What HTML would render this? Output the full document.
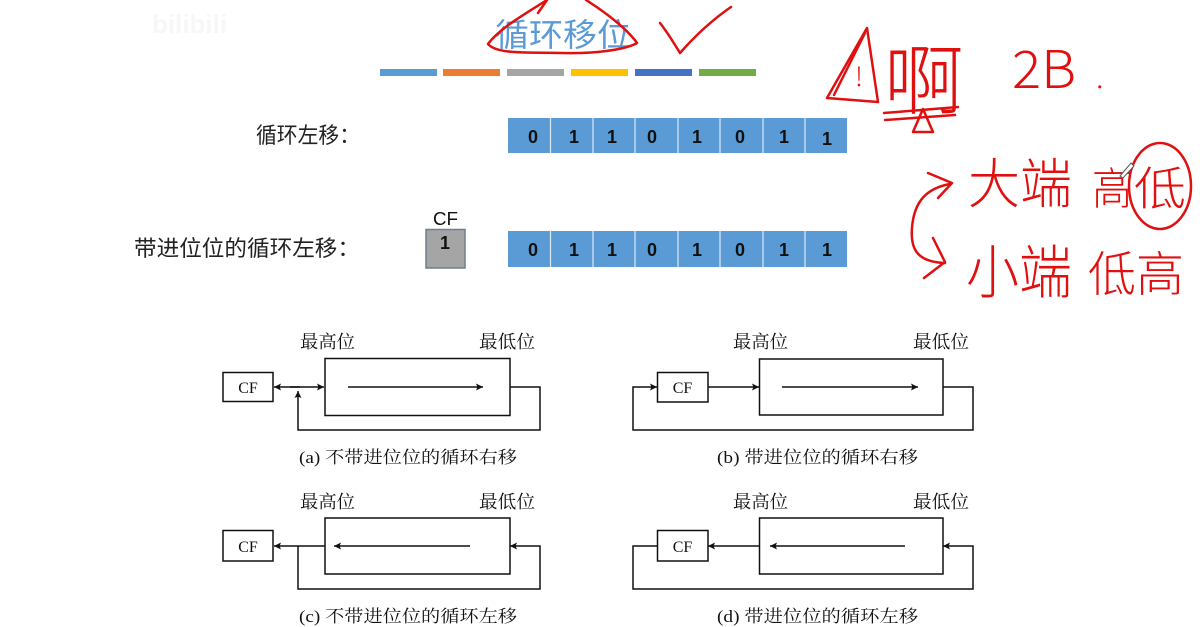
<!DOCTYPE html>
<html>
<head>
<meta charset="utf-8">
<style>
  html,body{margin:0;padding:0;background:#fff;}
  body{width:1200px;height:627px;overflow:hidden;}
  svg{display:block;}
  .sans{font-family:"Liberation Sans","Noto Sans CJK SC",sans-serif;}
  .serif{font-family:"Liberation Serif","Noto Serif CJK SC",serif;}
  .hand{font-family:"Noto Sans CJK SC","WenQuanYi Zen Hei",sans-serif;font-weight:300;fill:#e01010;}
</style>
</head>
<body>
<svg width="1200" height="627" viewBox="0 0 1200 627" xmlns="http://www.w3.org/2000/svg">
  <defs>
    <marker id="ah" viewBox="0 0 10 10" refX="10" refY="5" markerWidth="11" markerHeight="7" markerUnits="userSpaceOnUse" orient="auto">
      <path d="M0,0 L10,5 L0,10 L2,5 Z" fill="#111"/>
    </marker>
  </defs>

  <!-- watermark -->
  <text x="152" y="33" class="sans" font-size="26" font-weight="bold" fill="#f7f7f7">bilibili</text>

  <!-- Title -->
  <text x="495" y="46" class="sans" font-size="32" fill="#5b9bd5" textLength="136" lengthAdjust="spacingAndGlyphs">循环移位</text>

  <!-- colored bars -->
  <rect x="380" y="69" width="57" height="7" fill="#5b9bd5"/>
  <rect x="443" y="69" width="57" height="7" fill="#ed7d31"/>
  <rect x="507" y="69" width="57" height="7" fill="#a5a5a5"/>
  <rect x="571" y="69" width="57" height="7" fill="#ffc000"/>
  <rect x="635" y="69" width="57" height="7" fill="#4472c4"/>
  <rect x="699" y="69" width="57" height="7" fill="#70ad47"/>

  <!-- row 1 -->
  <text x="256" y="143" class="sans" font-size="22" fill="#222" textLength="104" lengthAdjust="spacingAndGlyphs">循环左移：</text>
  <g>
    <rect x="508" y="118" width="339" height="35" fill="#5b9bd5"/>
    <g stroke="#dbe8f5" stroke-width="1.2">
      <line x1="550.5" y1="118" x2="550.5" y2="153"/>
      <line x1="593" y1="118" x2="593" y2="153"/>
      <line x1="635" y1="118" x2="635" y2="153"/>
      <line x1="678" y1="118" x2="678" y2="153"/>
      <line x1="720" y1="118" x2="720" y2="153"/>
      <line x1="763" y1="118" x2="763" y2="153"/>
      <line x1="805" y1="118" x2="805" y2="153"/>
    </g>
    <g class="sans" font-size="18" font-weight="bold" fill="#111" text-anchor="middle">
      <text x="533" y="143">0</text>
      <text x="574" y="143">1</text>
      <text x="612" y="143">1</text>
      <text x="652" y="143">0</text>
      <text x="697" y="143">1</text>
      <text x="740" y="143">0</text>
      <text x="784" y="143">1</text>
      <text x="827" y="145">1</text>
    </g>
  </g>

  <!-- row 2 -->
  <text x="134" y="256" class="sans" font-size="22" fill="#222" textLength="226" lengthAdjust="spacingAndGlyphs">带进位位的循环左移：</text>
  <text x="433" y="225" class="sans" font-size="18" fill="#111" textLength="25" lengthAdjust="spacingAndGlyphs">CF</text>
  <rect x="426" y="229.5" width="39" height="38.5" fill="#a5a5a5" stroke="#6f7f8f" stroke-width="1.5"/>
  <text x="445" y="249" class="sans" font-size="18" font-weight="bold" fill="#111" text-anchor="middle">1</text>
  <g>
    <rect x="508" y="231" width="339" height="36" fill="#5b9bd5"/>
    <g stroke="#dbe8f5" stroke-width="1.2">
      <line x1="550.5" y1="231" x2="550.5" y2="267"/>
      <line x1="593" y1="231" x2="593" y2="267"/>
      <line x1="635" y1="231" x2="635" y2="267"/>
      <line x1="678" y1="231" x2="678" y2="267"/>
      <line x1="720" y1="231" x2="720" y2="267"/>
      <line x1="763" y1="231" x2="763" y2="267"/>
      <line x1="805" y1="231" x2="805" y2="267"/>
    </g>
    <g class="sans" font-size="18" font-weight="bold" fill="#111" text-anchor="middle">
      <text x="533" y="256">0</text>
      <text x="574" y="256">1</text>
      <text x="612" y="256">1</text>
      <text x="652" y="256">0</text>
      <text x="697" y="256">1</text>
      <text x="740" y="256">0</text>
      <text x="784" y="256">1</text>
      <text x="827" y="256">1</text>
    </g>
  </g>

  <!-- ===== Diagrams ===== -->
  <g stroke="#111" stroke-width="1.5" fill="none">
    <!-- (a) -->
    <rect x="223" y="372.5" width="50" height="29"/>
    <rect x="325" y="358.5" width="185" height="57"/>
    <line x1="348" y1="387" x2="483" y2="387" marker-end="url(#ah)"/>
    <line x1="300" y1="387" x2="274" y2="387" marker-end="url(#ah)"/>
    <line x1="290" y1="387" x2="324" y2="387" marker-end="url(#ah)"/>
    <path d="M510,387 H540 V430 H298 V391" marker-end="url(#ah)"/>

    <!-- (b) -->
    <rect x="657.5" y="372.5" width="50.5" height="29.5"/>
    <rect x="759.5" y="359" width="183.5" height="56"/>
    <line x1="782" y1="387" x2="918" y2="387" marker-end="url(#ah)"/>
    <line x1="708" y1="387" x2="759" y2="387" marker-end="url(#ah)"/>
    <path d="M943,387 H973 V430 H633 V387 H657" marker-end="url(#ah)"/>

    <!-- (c) -->
    <rect x="223" y="530.5" width="50" height="30.5"/>
    <rect x="325" y="518" width="185" height="56"/>
    <line x1="470" y1="546" x2="334" y2="546" marker-end="url(#ah)"/>
    <line x1="325" y1="546" x2="274" y2="546" marker-end="url(#ah)"/>
    <path d="M298,546 V589 H540 V546 H510" marker-end="url(#ah)"/>

    <!-- (d) -->
    <rect x="657.5" y="530.5" width="50.5" height="30.5"/>
    <rect x="759.5" y="518" width="183.5" height="56"/>
    <line x1="905" y1="546" x2="770" y2="546" marker-end="url(#ah)"/>
    <line x1="759" y1="546" x2="708" y2="546" marker-end="url(#ah)"/>
    <path d="M657,546 H633 V589 H973 V546 H943" marker-end="url(#ah)"/>
  </g>

  <g class="serif" fill="#111">
    <text x="248" y="393" font-size="16" text-anchor="middle">CF</text>
    <text x="682.5" y="393" font-size="16" text-anchor="middle">CF</text>
    <text x="248" y="552" font-size="16" text-anchor="middle">CF</text>
    <text x="682.5" y="552" font-size="16" text-anchor="middle">CF</text>

    <text x="300" y="348" font-size="18" textLength="55" lengthAdjust="spacingAndGlyphs">最高位</text>
    <text x="479" y="348" font-size="18" textLength="56" lengthAdjust="spacingAndGlyphs">最低位</text>
    <text x="733" y="348" font-size="18" textLength="55" lengthAdjust="spacingAndGlyphs">最高位</text>
    <text x="913" y="348" font-size="18" textLength="56" lengthAdjust="spacingAndGlyphs">最低位</text>
    <text x="300" y="508" font-size="18" textLength="55" lengthAdjust="spacingAndGlyphs">最高位</text>
    <text x="479" y="508" font-size="18" textLength="56" lengthAdjust="spacingAndGlyphs">最低位</text>
    <text x="733" y="508" font-size="18" textLength="55" lengthAdjust="spacingAndGlyphs">最高位</text>
    <text x="913" y="508" font-size="18" textLength="56" lengthAdjust="spacingAndGlyphs">最低位</text>

    <text x="299" y="463" font-size="17" textLength="218" lengthAdjust="spacingAndGlyphs">(a) 不带进位位的循环右移</text>
    <text x="717" y="463" font-size="17" textLength="201" lengthAdjust="spacingAndGlyphs">(b) 带进位位的循环右移</text>
    <text x="299" y="622" font-size="17" textLength="218" lengthAdjust="spacingAndGlyphs">(c) 不带进位位的循环左移</text>
    <text x="717" y="622" font-size="17" textLength="201" lengthAdjust="spacingAndGlyphs">(d) 带进位位的循环左移</text>
  </g>

  <!-- ===== Red annotations ===== -->
  <g stroke="#e01010" stroke-width="2.5" fill="none" stroke-linecap="round" stroke-linejoin="round">
    <path d="M547,0 C525,14 500,28 488,44 C497,55 532,52 562,53 C592,54 625,50 637,43 C628,30 608,14 586,0"/>
    <path d="M538,13 L547,0"/>
    <path d="M660,23 C668,33 675,45 680,53 C695,36 712,20 731,7"/>
    <path d="M867,28 L827,98 L878,102 Z"/>
    <path d="M865,33 L834,95"/>
    <path d="M884,113 L958,107"/>
    <path d="M885,120 L955,115"/>
    <path d="M913,132 L923,109 L933,132 Z"/>
    <path d="M950,184 C928,188 914,200 912,228 C910,252 920,262 945,263"/>
    <path d="M928,173 L952,183 L938,198"/>
    <path d="M933,238 L945,262 L924,278"/>
    <ellipse cx="1160" cy="186" rx="31" ry="43"/>
  </g>
  <text x="859" y="86" class="hand" font-size="26" text-anchor="middle">!</text>

  <text x="884" y="108" class="hand" font-size="76" textLength="80" lengthAdjust="spacingAndGlyphs">啊</text>
  <text x="1012" y="88" class="hand" font-size="52" textLength="64" lengthAdjust="spacingAndGlyphs">2B</text>
  <text x="1096" y="88" class="hand" font-size="30">.</text>

  <text x="968" y="203" class="hand" font-size="54" textLength="104" lengthAdjust="spacingAndGlyphs">大端</text>
  <text x="1092" y="204" class="hand" font-size="44" textLength="40" lengthAdjust="spacingAndGlyphs">高</text>
  <text x="1134" y="205" class="hand" font-size="46" textLength="52" lengthAdjust="spacingAndGlyphs">低</text>

  <text x="966" y="293" class="hand" font-size="58" textLength="106" lengthAdjust="spacingAndGlyphs">小端</text>
  <text x="1088" y="291" class="hand" font-size="48" textLength="96" lengthAdjust="spacingAndGlyphs">低高</text>

  <path d="M1120,176 L1131,163 L1134,166 L1123,178 Z" fill="#fff" stroke="#555" stroke-width="1"/>
</svg>
</body>
</html>
